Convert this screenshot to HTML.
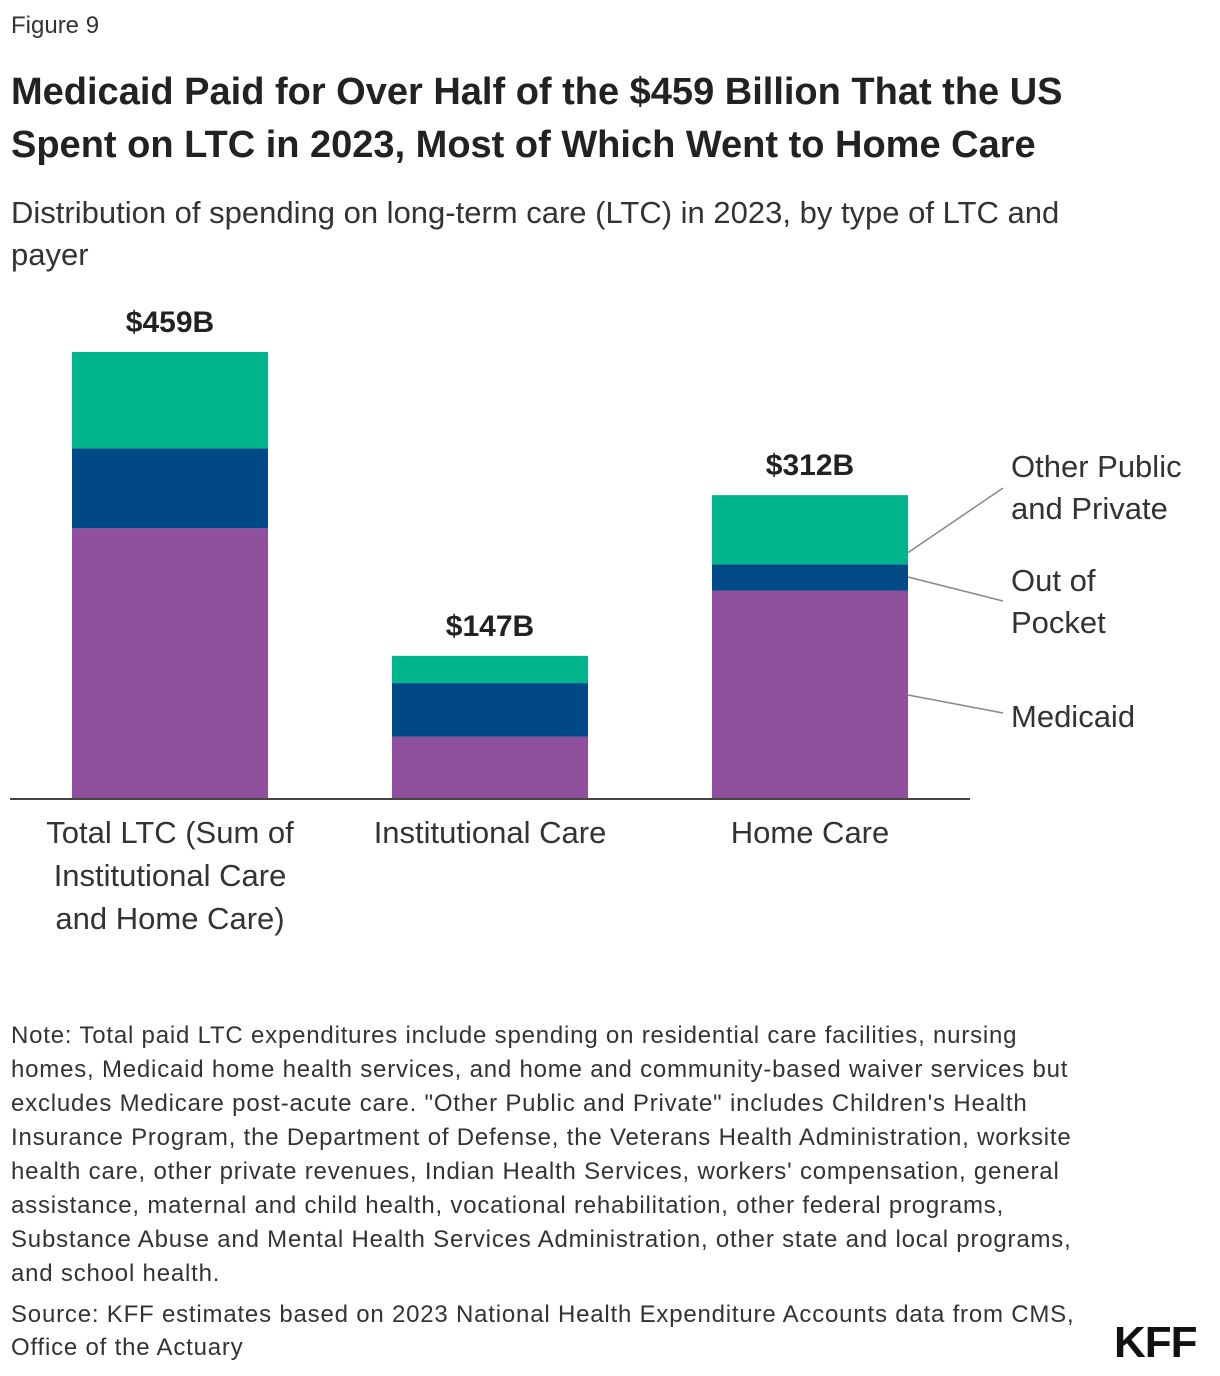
<!DOCTYPE html>
<html><head><meta charset="utf-8"><style>
body{margin:0;background:#fff;font-family:"Liberation Sans",sans-serif;color:#222;}
#wrap{position:relative;width:1220px;height:1376px;}
.t{position:absolute;left:11px;}
</style></head><body>
<div id="wrap">
<div class="t" style="top:12px;font-size:24px;color:#333">Figure 9</div>
<div class="t" style="top:66px;font-size:38px;font-weight:bold;line-height:53px;width:1140px;color:#222">Medicaid Paid for Over Half of the $459 Billion That the US Spent on LTC in 2023, Most of Which Went to Home Care</div>
<div class="t" style="top:192px;font-size:31px;line-height:42px;width:1120px;color:#333">Distribution of spending on long-term care (LTC) in 2023, by type of LTC and payer</div>
<svg id="chart" width="1220" height="960" style="position:absolute;left:0;top:0" font-family="Liberation Sans, sans-serif"></svg>
<div class="t" style="top:1019px;font-size:24px;line-height:34px;width:1085px;letter-spacing:0.8px;color:#333">Note: Total paid LTC expenditures include spending on residential care facilities, nursing homes, Medicaid home health services, and home and community-based waiver services but excludes Medicare post-acute care. "Other Public and Private" includes Children's Health Insurance Program, the Department of Defense, the Veterans Health Administration, worksite health care, other private revenues, Indian Health Services, workers' compensation, general assistance, maternal and child health, vocational rehabilitation, other federal programs, Substance Abuse and Mental Health Services Administration, other state and local programs, and school health.</div>
<div class="t" style="top:1298px;font-size:24px;line-height:33px;width:1090px;letter-spacing:0.8px;color:#333">Source: KFF estimates based on 2023 National Health Expenditure Accounts data from CMS, Office of the Actuary</div>
<div style="position:absolute;left:1114px;top:1318px;font-size:44px;font-weight:bold;color:#111;letter-spacing:-1px">KFF</div>
</div>
<script>
const categories=["Total LTC (Sum of|Institutional Care|and Home Care)","Institutional Care","Home Care"];
const totals=["$459B","$147B","$312B"];
const medicaid=[278,64,214];
const outOfPocket=[82,55,27];
const otherPublicPrivate=[99,28,71];
const NS="http://www.w3.org/2000/svg";
const svg=document.getElementById('chart');
const base=799, scale=447/459, x0=72, step=320, bw=196;
const y=v=>base-v*scale;
function mk(t,a){const e=document.createElementNS(NS,t);for(const k in a)e.setAttribute(k,a[k]);svg.appendChild(e);return e;}
const series=[[medicaid,'#8f4f9d','medicaid'],[outOfPocket,'#004987','out-of-pocket'],[otherPublicPrivate,'#00b48b','other-public-private']];
categories.forEach((c,i)=>{
  let cum=0; const x=x0+i*step;
  series.forEach(([arr,col,nm])=>{
    const r=mk('rect',{x:x,y:y(cum+arr[i]),width:bw,height:arr[i]*scale,fill:col});
    
    
    cum+=arr[i];
  });
  const tl=mk('text',{x:x+bw/2,y:y(cum)-20,'text-anchor':'middle','font-size':30,'font-weight':'bold',fill:'#222'});
  tl.textContent=totals[i];
  
  
  c.split('|').forEach((ln,j)=>{
    const t=mk('text',{x:x+bw/2,y:843+j*43,'text-anchor':'middle','font-size':31,fill:'#333'});
    t.textContent=ln;
    
    
  });
});
const ax=mk('line',{x1:10,x2:970,y1:base,y2:base,stroke:'#444','stroke-width':2});


const li=2, lx=x0+li*step+bw;
const lblY=[716,580,466];
const lbls=[["Medicaid"],["Out of","Pocket"],["Other Public","and Private"]];
lbls.forEach((arr,k)=>{
  const l=mk('polyline',{points:`${lx},${k==2?y(medicaid[li]+outOfPocket[li]+12):(k==0?695:577)} 1003,${k==0?713:(k==1?601:488)}`,fill:'none',stroke:'#888','stroke-width':1.5});
  
  
  arr.forEach((s,j)=>{
    const t=mk('text',{x:1011,y:lblY[k]+11+j*42,'font-size':31,fill:'#333'});
    t.textContent=s;
    
    
  });
});
</script>
</body></html>
